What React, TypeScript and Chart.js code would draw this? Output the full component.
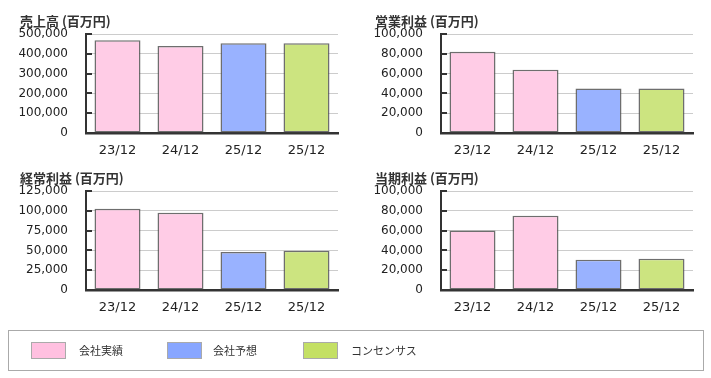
import React, { useEffect, useRef } from 'react';
import { Chart, registerables } from 'chart.js';

Chart.register(...registerables);

const categories = ['23/12', '24/12', '25/12', '25/12'];

const salesValues = [468000, 439000, 453000, 453000];
const operatingValues = [82000, 64000, 45000, 45000];
const ordinaryValues = [102500, 97500, 48000, 49500];
const netValues = [60000, 75000, 30500, 31500];

const chartTitles = ['売上高 (百万円)', '営業利益 (百万円)', '経常利益 (百万円)', '当期利益 (百万円)'];
const yMaxValues = [500000, 100000, 125000, 100000];
const yStepValues = [100000, 20000, 25000, 20000];

const legendLabels = ['会社実績', '会社予想', 'コンセンサス'];

const PINK = 'rgb(255,204,230)';
const BLUE = 'rgb(153,178,255)';
const GREEN = 'rgb(204,228,128)';
const barColors = [PINK, PINK, BLUE, GREEN];
const legendColors = ['rgb(255,192,224)', 'rgb(136,166,255)', 'rgb(196,224,100)'];

const CANVAS_W = 355;
const CANVAS_H = 165;
const PLOT_LEFT = 86;
const PLOT_RIGHT_PAD = 17;
const PLOT_TOP = 34;
const PLOT_BOTTOM = 133;

const innerTicks = {
  id: 'innerTicks',
  afterDraw(chart: any) {
    const y = chart.scales.y;
    const ctx = chart.ctx;
    const left = chart.chartArea.left;
    ctx.save();
    ctx.strokeStyle = '#333';
    ctx.lineWidth = 2;
    y.ticks.forEach((_t: any, i: number) => {
      const py = Math.round(y.getPixelForTick(i));
      ctx.beginPath();
      ctx.moveTo(left, py);
      ctx.lineTo(left + 6, py);
      ctx.stroke();
    });
    ctx.restore();
  },
};

function MiniChart(props: { left: number; top: number; title: string; values: number[]; max: number; step: number }) {
  const ref = useRef<HTMLCanvasElement>(null);
  useEffect(() => {
    if (!ref.current) return;
    const chart = new Chart(ref.current, {
      type: 'bar',
      data: {
        labels: categories,
        datasets: [
          {
            data: props.values,
            backgroundColor: barColors,
            borderColor: 'rgba(85,85,85,0.85)',
            borderWidth: 1.5,
            borderSkipped: false,
            barPercentage: 0.73,
            categoryPercentage: 1,
          },
        ],
      },
      options: {
        animation: false,
        responsive: false,
        maintainAspectRatio: false,
        events: [],
        layout: { padding: { top: PLOT_TOP, right: PLOT_RIGHT_PAD, left: 0, bottom: 0 } },
        plugins: { legend: { display: false }, title: { display: false }, tooltip: { enabled: false } },
        scales: {
          x: {
            grid: { display: false, drawTicks: false },
            border: { display: true, color: '#333', width: 2.5 },
            ticks: { color: '#222', font: { family: 'DejaVu Sans', size: 13 }, padding: 10, maxRotation: 0, autoSkip: false },
            afterFit: (s: any) => {
              s.height = CANVAS_H - PLOT_BOTTOM;
            },
          },
          y: {
            min: 0,
            max: props.max,
            grid: { color: '#cccccc', lineWidth: 1, drawTicks: false },
            border: { display: true, color: '#333', width: 2 },
            ticks: {
              stepSize: props.step,
              color: '#222',
              padding: 18,
              font: { family: 'DejaVu Sans', size: 12 },
              callback: (v: any) => Number(v).toLocaleString('en-US'),
            },
            afterFit: (s: any) => {
              s.width = PLOT_LEFT;
            },
          },
        },
      },
      plugins: [innerTicks],
    });
    return () => chart.destroy();
  }, []);
  return (
    <div style={{ position: 'absolute', left: props.left, top: props.top, width: CANVAS_W, height: CANVAS_H }}>
      <canvas ref={ref} width={CANVAS_W} height={CANVAS_H} style={{ position: 'absolute', left: 0, top: 0 }} />
      <div
        style={{
          position: 'absolute',
          left: 20,
          top: 12,
          font: "bold 13px 'Noto Sans CJK JP', sans-serif",
          lineHeight: '17px',
          color: '#333',
          whiteSpace: 'nowrap',
        }}
      >
        {props.title}
      </div>
    </div>
  );
}

const swatchLefts = [22, 158, 294];
const textLefts = [70, 204, 342];

export default function App() {
  const valueSets = [salesValues, operatingValues, ordinaryValues, netValues];
  const positions = [
    [0, 0],
    [355, 0],
    [0, 157],
    [355, 157],
  ];
  return (
    <div style={{ position: 'absolute', left: 0, top: 0, width: 711, height: 378, background: '#fff', overflow: 'hidden' }}>
      {valueSets.map((vals, i) => (
        <MiniChart
          key={i}
          left={positions[i][0]}
          top={positions[i][1]}
          title={chartTitles[i]}
          values={vals}
          max={yMaxValues[i]}
          step={yStepValues[i]}
        />
      ))}
      <div
        style={{
          position: 'absolute',
          left: 8,
          top: 330,
          width: 696,
          height: 41,
          boxSizing: 'border-box',
          border: '1px solid #aaa',
        }}
      >
        {legendLabels.map((lab, i) => (
          <React.Fragment key={lab}>
            <div
              style={{
                position: 'absolute',
                left: swatchLefts[i],
                top: 11,
                width: 35,
                height: 17,
                boxSizing: 'border-box',
                border: '1px solid #aaa',
                background: legendColors[i],
              }}
            />
            <div
              style={{
                position: 'absolute',
                left: textLefts[i],
                top: 12,
                font: "11px 'Noto Sans CJK JP', sans-serif",
                lineHeight: '14px',
                color: '#333',
                whiteSpace: 'nowrap',
              }}
            >
              {lab}
            </div>
          </React.Fragment>
        ))}
      </div>
    </div>
  );
}
